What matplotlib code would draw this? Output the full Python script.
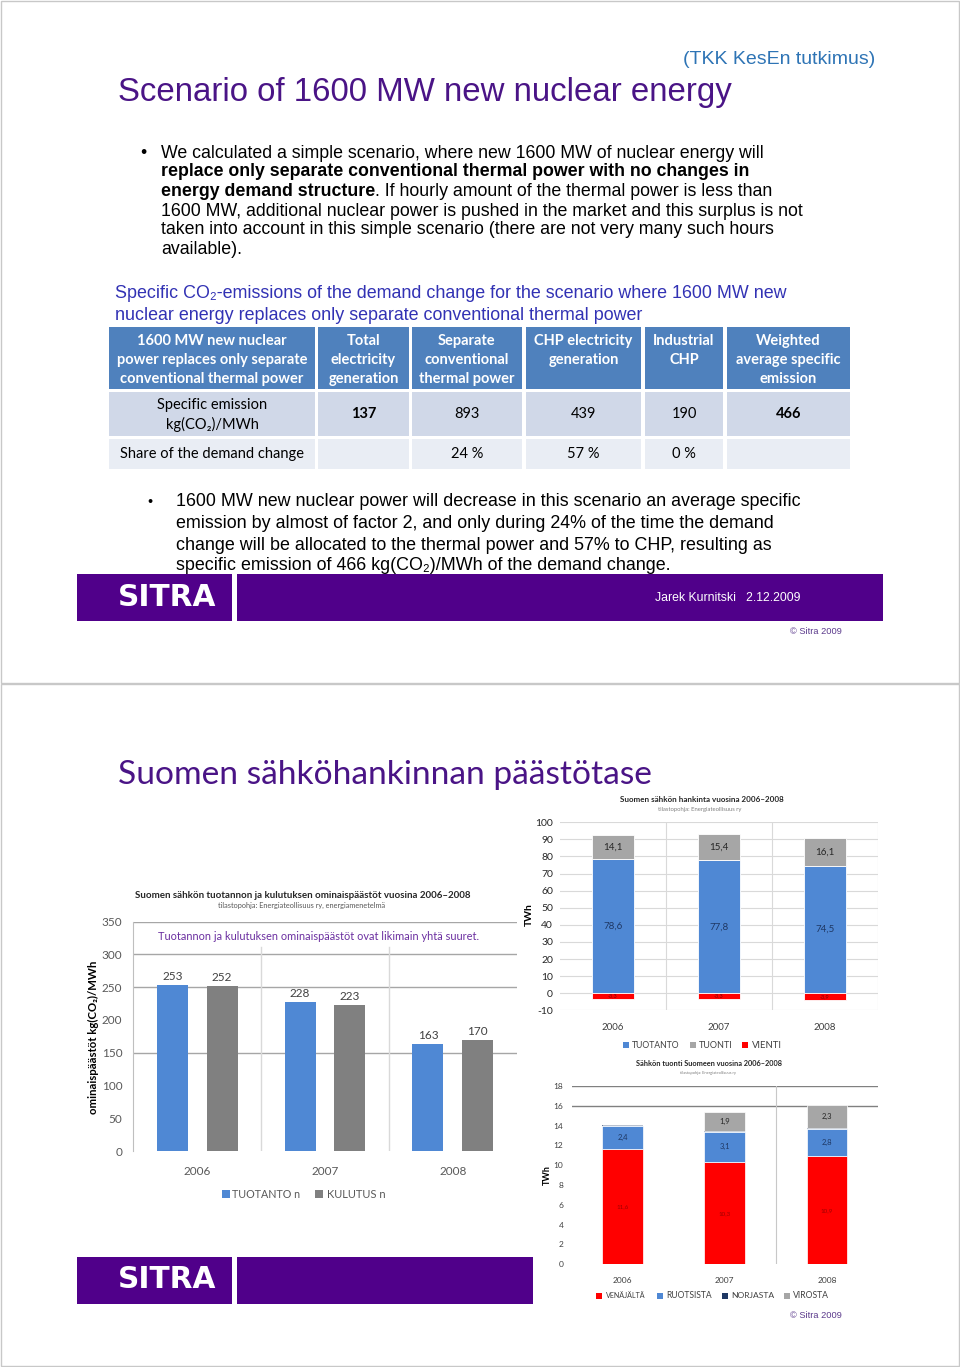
import numpy as np
import matplotlib
matplotlib.use('Agg')
import matplotlib.pyplot as plt
from matplotlib.patches import Rectangle

# ---------------- data ----------------
years = ['2006', '2007', '2008']

# left chart: specific emissions kg(CO2)/MWh
em_tuotanto = [253, 228, 163]
em_kulutus = [252, 223, 170]

# top-right chart: electricity supply TWh
hank_tuotanto = [78.6, 77.8, 74.5]
hank_tuonti = [14.1, 15.4, 16.1]
hank_vienti = [-3.3, -3.3, -3.9]

# bottom-right chart: imports TWh
tuonti_venaja = [11.6, 10.3, 10.9]
tuonti_ruotsi = [2.4, 3.1, 2.8]
tuonti_norja = [0.1, 0.1, 0.1]
tuonti_viro = [0.0, 1.9, 2.3]

# table
table_header = [
    ['1600 MW new nuclear', 'power replaces only separate', 'conventional thermal power'],
    ['Total', 'electricity', 'generation'],
    ['Separate', 'conventional', 'thermal power'],
    ['CHP electricity', 'generation'],
    ['Industrial', 'CHP'],
    ['Weighted', 'average specific', 'emission'],
]
table_emission = ['137', '893', '439', '190', '466']
table_share = ['', '24 %', '57 %', '0 %', '']

# ---------------- setup ----------------
W, H = 960, 1367
plt.rcParams['font.family'] = ['Lato', 'DejaVu Sans']
plt.rcParams['axes.unicode_minus'] = False
SANS = ['Liberation Sans', 'DejaVu Sans']
CAL = ['Lato', 'DejaVu Sans']

PURPLE = '#4a1486'
BAND = '#50008a'
BLUE = '#4f88d4'
GRAY = '#808080'
LGRAY = '#a6a6a6'
RED = '#ff0000'
NAVY = '#1f3864'

fig = plt.figure(figsize=(W / 100, H / 100), dpi=100)
fig.patch.set_facecolor('white')
ax0 = fig.add_axes([0, 0, 1, 1], zorder=0)
ax0.set_xlim(0, W)
ax0.set_ylim(H, 0)
ax0.axis('off')
renderer = fig.canvas.get_renderer()


def fit_size(s, target, family=SANS, weight='normal', base=12):
    t = ax0.text(0, 0, s, fontsize=base, family=family, fontweight=weight)
    w = t.get_window_extent(renderer).width
    t.remove()
    return base * target / w


def T(x, y, s, size=10, color='black', ha='left', va='center', weight='normal',
      family=SANS, fitw=None, rot=0, z=3):
    if fitw:
        size = fit_size(s, fitw, family=family, weight=weight)
    return ax0.text(x, y, s, fontsize=size, color=color, ha=ha, va=va, fontweight=weight,
                    family=family, rotation=rot, zorder=z)


def seg_line(x, y, segs, size, color='black', family=SANS):
    for s, wt in segs:
        t = ax0.text(x, y, s, fontsize=size, color=color, ha='left', va='center',
                     fontweight=wt, family=family)
        x += t.get_window_extent(renderer).width


def rect(x0, y0, x1, y1, color, z=1, ec='none', lw=0):
    ax0.add_patch(Rectangle((x0, y0), x1 - x0, y1 - y0, facecolor=color, edgecolor=ec,
                            lw=lw, zorder=z))


def px_axes(x0, y0, x1, y1):
    a = fig.add_axes([x0 / W, 1 - y1 / H, (x1 - x0) / W, (y1 - y0) / H], zorder=2)
    a.set_facecolor('none')
    return a


# slide borders
ax0.add_patch(Rectangle((0.5, 0.5), 958.5, 682.5, facecolor='none', edgecolor='#c8c8c8', lw=1, zorder=1))
ax0.add_patch(Rectangle((0.5, 684), 958.5, 682, facecolor='none', edgecolor='#c8c8c8', lw=1, zorder=1))

# ---------------- slide 1 ----------------
T(875, 60, '(TKK KesEn tutkimus)', color='#2e74b5', ha='right', fitw=192)
T(118, 92, 'Scenario of 1600 MW new nuclear energy', color=PURPLE, fitw=617)

p1 = fit_size('We calculated a simple scenario, where new 1600 MW of nuclear energy will', 603)
T(140, 153, '•', p1)
seg_line(161, 153, [('We calculated a simple scenario, where new 1600 MW of nuclear energy will', 'normal')], p1)
seg_line(161, 172, [('replace only separate conventional thermal power with no changes in', 'bold')], p1)
seg_line(161, 191, [('energy demand structure', 'bold'),
                    ('. If hourly amount of the thermal power is less than', 'normal')], p1)
seg_line(161, 211, [('1600 MW, additional nuclear power is pushed in the market and this surplus is not', 'normal')], p1)
seg_line(161, 230, [('taken into account in this simple scenario (there are not very many such hours', 'normal')], p1)
seg_line(161, 250, [('available).', 'normal')], p1)

sub_c = '#3232b4'
ps = fit_size('Specific CO₂-emissions of the demand change for the scenario where 1600 MW new', 672)
T(115, 294, 'Specific CO₂-emissions of the demand change for the scenario where 1600 MW new', ps, color=sub_c)
T(115, 315, 'nuclear energy replaces only separate conventional thermal power', ps, color=sub_c)

# table
cols = [(109, 315), (318, 409), (412, 522), (526, 641), (645, 723), (727, 850)]
rows = [(327, 389), (392, 436), (439, 469)]
row_cols = ['#4f81bd', '#d0d8e8', '#e9edf4']
for (y0, y1), rc in zip(rows, row_cols):
    for (x0, x1) in cols:
        rect(x0, y0, x1, y1, rc)
tsz = fit_size('power replaces only separate', 190, family=CAL, weight='bold')
for (x0, x1), lines in zip(cols, table_header):
    for i, ln in enumerate(lines):
        T((x0 + x1) / 2, 341 + 19 * i, ln, tsz, color='white', ha='center', weight='bold', family=CAL)
T(212, 405, 'Specific emission', tsz, ha='center', family=CAL)
T(212, 424, 'kg(CO₂)/MWh', tsz, ha='center', family=CAL)
for k, ((x0, x1), v) in enumerate(zip(cols[1:], table_emission)):
    T((x0 + x1) / 2, 414, v, tsz, ha='center', family=CAL,
      weight='bold' if k in (0, 4) else 'normal')
T(120, 454, 'Share of the demand change', tsz, ha='left', family=CAL)
for (x0, x1), v in zip(cols[1:], table_share):
    if v:
        T((x0 + x1) / 2, 454, v, tsz, ha='center', family=CAL)

p2 = fit_size('1600 MW new nuclear power will decrease in this scenario an average specific', 624)
T(147, 502, '•', p2 * 0.8)
T(176, 502, '1600 MW new nuclear power will decrease in this scenario an average specific', p2)
T(176, 523, 'emission by almost of factor 2, and only during 24% of the time the demand', p2)
T(176, 545, 'change will be allocated to the thermal power and 57% to CHP, resulting as', p2)
T(176, 566, 'specific emission of 466 kg(CO₂)/MWh of the demand change.', p2)

# footer slide 1
rect(77, 574, 232, 621, BAND, z=5)
rect(237, 574, 883, 621, BAND, z=5)
T(118, 597, 'SITRA', color='white', weight='bold', family=['DejaVu Sans'], fitw=98, z=6)
T(655, 598, 'Jarek Kurnitski   2.12.2009', color='white', fitw=146, z=6)
T(790, 631, '© Sitra 2009', color='#5b3a8c', fitw=52)

# ---------------- slide 2 ----------------
T(118, 775, 'Suomen sähköhankinnan päästötase', color=PURPLE, family=CAL, fitw=531)

# footer slide 2
rect(77, 1257, 232, 1304, BAND, z=5)
rect(237, 1257, 533, 1304, BAND, z=5)
T(118, 1280, 'SITRA', color='white', weight='bold', family=['DejaVu Sans'], fitw=98, z=6)
T(790, 1315, '© Sitra 2009', color='#5b3a8c', fitw=52)

x = np.arange(3)

# ----- left chart -----
T(135, 895, 'Suomen sähkön tuotannon ja kulutuksen ominaispäästöt vuosina 2006–2008',
  color='#262626', weight='bold', family=CAL, fitw=333)
T(218, 905, 'tilastopohja: Energiateollisuus ry, energiamenetelmä', color='#595959', family=CAL, fitw=167)
axL = px_axes(133.3, 921.7, 516.7, 1151)
axL.bar(x - 0.195, em_tuotanto, 0.242, color=BLUE, zorder=3)
axL.bar(x + 0.195, em_kulutus, 0.242, color=GRAY, zorder=3)
for xi, v in zip(x, em_tuotanto):
    axL.annotate(str(v), (xi - 0.195, v), xytext=(0, 2), textcoords='offset points',
                 ha='center', va='bottom', fontsize=8.5, color='#404040')
for xi, v in zip(x, em_kulutus):
    axL.annotate(str(v), (xi + 0.195, v), xytext=(0, 2), textcoords='offset points',
                 ha='center', va='bottom', fontsize=8.5, color='#404040')
axL.set_xlim(-0.5, 2.5)
axL.set_ylim(0, 350)
axL.set_yticks(range(0, 351, 50))
axL.set_xticks(x, years)
for gv in [150, 250, 300, 350]:
    axL.axhline(gv, color='#a6a6a6', lw=1, zorder=1)
for sv in [0.5, 1.5]:
    axL.axvline(sv, ymax=0.89, color='#d9d9d9', lw=1, zorder=1)
for s in ['top', 'right', 'bottom']:
    axL.spines[s].set_visible(False)
axL.spines['left'].set_color('#bfbfbf')
axL.tick_params(axis='y', length=0, labelsize=8.5, labelcolor='#595959', pad=8)
axL.tick_params(axis='x', length=0, labelsize=8.5, labelcolor='#595959', pad=11)
ylab_sz = fit_size('ominaispäästöt kg(CO₂)/MWh', 152, family=CAL, weight='bold')
T(93, 1037, 'ominaispäästöt kg(CO₂)/MWh', ylab_sz, color='black', weight='bold', family=CAL,
  rot=90, ha='center')
T(158, 937, 'Tuotannon ja kulutuksen ominaispäästöt ovat likimain yhtä suuret.',
  color='#6b2fa0', family=CAL, fitw=318, z=4)
# legend
rect(222, 1189.5, 230, 1197.5, BLUE)
T(232, 1194, 'TUOTANTO n', color='#595959', family=CAL, fitw=68)
rect(315, 1189.5, 323, 1197.5, GRAY)
T(327, 1194, 'KULUTUS n', color='#595959', family=CAL, fitw=59)

# ----- top-right chart -----
T(620, 800, 'Suomen sähkön hankinta vuosina 2006–2008', color='#262626', weight='bold',
  family=CAL, fitw=161)
T(658, 809, 'tilastopohja: Energiateollisuus ry', color='#7f7f7f', family=CAL, fitw=84)
axR = px_axes(560, 822.3, 878, 1010.3)
bw = 0.40
axR.bar(x, hank_tuotanto, bw, color=BLUE, zorder=3, edgecolor='white', lw=0.6)
axR.bar(x, hank_tuonti, bw, bottom=hank_tuotanto, color=LGRAY, zorder=3, edgecolor='white', lw=0.6)
axR.bar(x, hank_vienti, bw, color=RED, zorder=3, edgecolor='white', lw=0.6)
for xi, a, b, c in zip(x, hank_tuotanto, hank_tuonti, hank_vienti):
    axR.text(xi, a / 2, f'{a:.1f}'.replace('.', ','), ha='center', va='center', fontsize=7, color=NAVY, zorder=4)
    axR.text(xi, a + b / 2, f'{b:.1f}'.replace('.', ','), ha='center', va='center', fontsize=7, color='#262626', zorder=4)
    axR.text(xi, c / 2, f'{c:.1f}'.replace('.', ','), ha='center', va='center', fontsize=4, color='#7f0000', zorder=4)
axR.set_xlim(-0.5, 2.5)
axR.set_ylim(-10, 100)
axR.set_yticks(range(-10, 101, 10))
axR.set_xticks(x, years)
axR.grid(axis='y', color='#d9d9d9', lw=0.8, zorder=0)
for sv in [0.5, 1.5, 2.5]:
    axR.axvline(sv, color='#d9d9d9', lw=0.8, zorder=0)
for s in ['top', 'right', 'bottom', 'left']:
    axR.spines[s].set_visible(False)
axR.tick_params(axis='y', length=0, labelsize=7.5, labelcolor='#262626', pad=5)
axR.tick_params(axis='x', length=0, labelsize=7, labelcolor='#404040', pad=9)
T(529, 915, 'TWh', 7.5, color='black', weight='bold', family=CAL, rot=90, ha='center')
rect(623, 1041.5, 629, 1047.5, BLUE)
T(632, 1045, 'TUOTANTO', color='#404040', family=CAL, fitw=48)
rect(690, 1041.5, 696, 1047.5, LGRAY)
T(699, 1045, 'TUONTI', color='#404040', family=CAL, fitw=34)
rect(742, 1041.5, 748, 1047.5, RED)
T(752, 1045, 'VIENTI', color='#404040', family=CAL, fitw=30)

# ----- bottom-right chart -----
T(636, 1064, 'Sähkön tuonti Suomeen vuosina 2006–2008', color='#262626', weight='bold',
  family=CAL, fitw=145)
T(680, 1073, 'tilastopohja: Energiateollisuus ry', color='#7f7f7f', family=CAL, fitw=57)
axB = px_axes(571.7, 1086, 878, 1264.3)
b1 = np.array(tuonti_venaja)
b2 = b1 + np.array(tuonti_ruotsi)
b3 = b2 + np.array(tuonti_norja)
axB.bar(x, tuonti_venaja, bw, color=RED, zorder=3, edgecolor='white', lw=0.5)
axB.bar(x, tuonti_ruotsi, bw, bottom=b1, color=BLUE, zorder=3, edgecolor='white', lw=0.5)
axB.bar(x, tuonti_norja, bw, bottom=b2, color=NAVY, zorder=3)
axB.bar(x, tuonti_viro, bw, bottom=b3, color=LGRAY, zorder=3, edgecolor='white', lw=0.5)
for i in range(3):
    axB.text(x[i], b1[i] / 2, f'{tuonti_venaja[i]:.1f}'.replace('.', ','), ha='center', va='center',
             fontsize=4.5, color='#a00000', zorder=4)
    axB.text(x[i], b1[i] + tuonti_ruotsi[i] / 2, f'{tuonti_ruotsi[i]:.1f}'.replace('.', ','),
             ha='center', va='center', fontsize=5.5, color=NAVY, zorder=4)
    if tuonti_viro[i] > 0:
        axB.text(x[i], b3[i] + tuonti_viro[i] / 2, f'{tuonti_viro[i]:.1f}'.replace('.', ','),
                 ha='center', va='center', fontsize=5.5, color='#262626', zorder=4)
axB.set_xlim(-0.5, 2.5)
axB.set_ylim(0, 18)
axB.set_yticks(range(0, 19, 2))
axB.set_xticks(x, years)
for gv in [16, 18]:
    axB.axhline(gv, color='#808080', lw=1, zorder=1)
axB.axvline(1.5, color='#c8c8c8', lw=0.8, zorder=1)
for s in ['top', 'right', 'bottom', 'left']:
    axB.spines[s].set_visible(False)
axB.tick_params(axis='y', length=0, labelsize=6, labelcolor='#404040', pad=6)
axB.tick_params(axis='x', length=0, labelsize=6, labelcolor='#404040', pad=9)
T(547, 1175, 'TWh', 6.5, color='black', weight='bold', family=CAL, rot=90, ha='center')
rect(596, 1293, 602, 1299, RED)
T(606, 1296, 'VENÄJÄLTÄ', color='#404040', family=CAL, fitw=40)
rect(657, 1293, 663, 1299, BLUE)
T(666, 1296, 'RUOTSISTA', color='#404040', family=CAL, fitw=46)
rect(722, 1293, 728, 1299, NAVY)
T(731, 1296, 'NORJASTA', color='#404040', family=CAL, fitw=43)
rect(784, 1293, 790, 1299, LGRAY)
T(793, 1296, 'VIROSTA', color='#404040', family=CAL, fitw=36)

fig.savefig('out.png', dpi=100, facecolor='white')
